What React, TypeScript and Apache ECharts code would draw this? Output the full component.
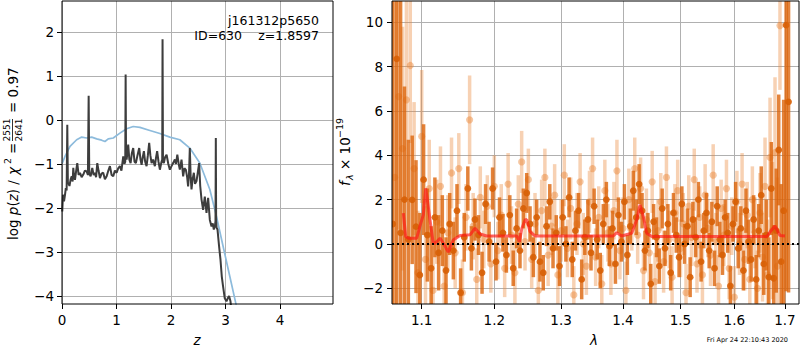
import React, { useEffect, useRef } from 'react';
import * as echarts from 'echarts';

const FONT = 'DejaVu Sans';

// Left panel: log p(z) curve (z, log p)
const pzCurve: [number, number][] = [
  [0.005, -2.08], [0.018, -1.7], [0.037, -1.85], [0.055, -1.7], [0.07, -1.55], [0.085, -1.6],
  [0.097, -0.11], [0.108, -1.45], [0.115, -1.43], [0.137, -1.5], [0.158, -1.35], [0.178, -1.28],
  [0.195, -1.4], [0.207, -1.09], [0.222, -1.3], [0.238, -1.36], [0.26, -1.15], [0.28, -0.98],
  [0.305, -1.25], [0.33, -1.2], [0.36, -1.3], [0.39, -1.24], [0.42, -1.15], [0.452, -1.17],
  [0.475, -1.25], [0.489, 0.55], [0.5, -1.22], [0.525, -1.28], [0.555, -1.09], [0.58, -1.25],
  [0.604, -1.2], [0.625, -1.3], [0.647, -0.98], [0.67, -1.15], [0.696, -1.32], [0.725, -1.22],
  [0.756, -1.2], [0.787, -1.35], [0.819, -1.28], [0.85, -1.15], [0.879, -1.05], [0.91, -1.25],
  [0.94, -1.28], [0.97, -1.15], [1.002, -1.2], [1.03, -1.1], [1.062, -1.05], [1.09, -1.15],
  [1.123, -0.83], [1.145, -1.0], [1.16, -0.95], [1.167, 1.03], [1.175, -0.85], [1.185, -0.9],
  [1.2, -0.75], [1.214, -0.56], [1.235, -0.9], [1.258, -0.98], [1.282, -0.75], [1.306, -0.64],
  [1.33, -0.95], [1.355, -0.98], [1.385, -0.8], [1.416, -0.64], [1.44, -0.9], [1.46, -1.02],
  [1.48, -0.85], [1.502, -0.71], [1.525, -0.95], [1.551, -1.05], [1.575, -0.8], [1.599, -0.52],
  [1.62, -0.8], [1.643, -0.98], [1.67, -0.9], [1.703, -1.05], [1.725, -0.85], [1.745, -0.71],
  [1.77, -0.95], [1.795, -1.13], [1.825, -0.95], [1.838, -0.9], [1.844, 1.83], [1.852, -0.95],
  [1.868, -0.98], [1.89, -0.85], [1.918, -0.79], [1.95, -1.0], [1.978, -1.13], [2.009, -1.05],
  [2.038, -0.98], [2.07, -0.9], [2.09, -1.0], [2.115, -0.79], [2.14, -1.0], [2.161, -1.13],
  [2.192, -0.9], [2.222, -1.28], [2.245, -1.1], [2.271, -1.13], [2.295, -1.3], [2.313, -1.51],
  [2.33, -1.2], [2.344, -0.64], [2.36, -1.3], [2.375, -1.58], [2.395, -1.35], [2.418, -1.2],
  [2.44, -1.45], [2.467, -1.39], [2.49, -1.2], [2.515, -0.98], [2.535, -1.5], [2.559, -1.81],
  [2.588, -2.04], [2.619, -1.74], [2.65, -2.11], [2.68, -1.77], [2.711, -2.27], [2.742, -2.42],
  [2.765, -2.35], [2.784, -2.49], [2.805, -2.4], [2.815, -2.3], [2.821, -0.41], [2.827, -2.3],
  [2.835, -2.45], [2.852, -2.49], [2.881, -2.87], [2.907, -3.18], [2.93, -3.55], [2.954, -3.78],
  [2.985, -4.05], [3.016, -4.12], [3.04, -4.05], [3.064, -4.0], [3.09, -4.12], [3.114, -4.4],
];

// Left panel: smooth prior / chi2 curve (z, value)
const chi2Curve: [number, number][] = [
  [0.005, -0.98], [0.055, -0.83], [0.147, -0.6], [0.269, -0.45], [0.361, -0.39], [0.452, -0.41],
  [0.544, -0.39], [0.636, -0.43], [0.727, -0.46], [0.788, -0.49], [0.848, -0.43], [0.94, -0.41],
  [1.062, -0.3], [1.185, -0.2], [1.306, -0.15], [1.429, -0.17], [1.612, -0.24], [1.795, -0.31],
  [1.978, -0.39], [2.161, -0.45], [2.344, -0.64], [2.527, -0.98], [2.711, -1.58], [2.833, -2.19],
  [2.954, -2.87], [3.077, -3.55], [3.187, -4.16], [3.26, -4.6],
];

// Right panel: spectrum points [lambda (um), flux, error]
const darkPoints: [number, number, number][] = [
  [1.0625, 0.9, 15], [1.0675, 8.35, 12], [1.0725, 0.5, 14], [1.0775, 2.0, 5.1], [1.0825, 0.2, 4.5],
  [1.0875, 1.99, 2.9], [1.0925, 0.78, 3.0], [1.0975, -1.4, 2.8], [1.1025, 2.9, 2.5], [1.1075, 0.4, 2.1],
  [1.1125, -1.1, 1.9], [1.1175, 1.2, 1.8], [1.1225, -0.4, 1.7], [1.1275, 0.6, 1.6], [1.1325, -1.2, 1.5],
  [1.1375, 0.9, 1.4], [1.1425, -0.3, 1.3], [1.1475, 1.5, 1.2], [1.1525, -2.2, 1.1], [1.1575, 0.3, 1.1],
  [1.1625, 2.5, 1.0], [1.1675, -0.2, 1.0], [1.1725, 1.1, 0.95], [1.1775, 0.4, 0.9], [1.1825, -1.3, 0.95],
  [1.1875, 1.8, 0.9], [1.1925, 0.1, 0.9], [1.1975, 2.5, 0.95], [1.2025, -0.8, 0.85], [1.2075, 1.2, 0.9],
  [1.2125, 0.5, 0.85], [1.2175, -0.5, 0.8], [1.2225, 1.3, 0.9], [1.2275, -1.1, 0.8], [1.2325, 0.7, 0.9],
  [1.2375, -0.3, 0.8], [1.2425, 1.6, 0.9], [1.2475, 2.3, 0.9], [1.2525, 0.9, 0.8], [1.2575, -0.6, 0.9],
  [1.2625, 1.2, 0.8], [1.2675, -0.8, 0.9], [1.2725, -1.3, 0.8], [1.2775, 0.8, 0.9], [1.2825, 1.9, 0.8],
  [1.2875, -0.2, 0.9], [1.2925, 0.5, 0.8], [1.2975, -1.0, 0.9], [1.3025, 1.2, 0.8], [1.3075, 0.0, 0.8],
  [1.3125, 2.1, 0.9], [1.3175, -0.7, 0.8], [1.3225, 0.6, 0.9], [1.3275, 1.5, 0.8], [1.3325, -1.6, 0.9],
  [1.3375, 0.3, 0.8], [1.3425, 1.1, 0.9], [1.3475, -0.4, 0.8], [1.3525, 1.7, 0.8], [1.3575, 0.2, 0.9],
  [1.3625, -1.2, 0.8], [1.3675, 0.9, 0.9], [1.3725, 2.0, 0.8], [1.3775, -0.1, 0.9], [1.3825, 0.7, 0.8],
  [1.3875, -0.9, 0.9], [1.3925, 1.3, 0.8], [1.3975, 0.1, 0.9], [1.4025, 1.9, 0.8], [1.4075, -0.5, 0.9],
  [1.4125, 0.8, 0.8], [1.4175, 2.4, 0.9], [1.4225, 1.2, 0.8], [1.4275, 2.7, 0.9], [1.4325, 1.5, 0.8],
  [1.4375, -0.3, 0.9], [1.4425, 0.6, 0.8], [1.4475, -1.8, 0.9], [1.4525, 1.0, 0.8], [1.4575, 0.3, 0.9],
  [1.4625, -1.0, 0.8], [1.4675, 1.6, 0.9], [1.4725, -0.2, 0.8], [1.4775, 0.9, 0.9], [1.4825, -1.3, 0.8],
  [1.4875, 1.4, 0.9], [1.4925, 0.4, 0.8], [1.4975, -0.6, 0.9], [1.5025, 1.8, 0.8], [1.5075, 0.0, 0.9],
  [1.5125, 0.8, 0.8], [1.5175, -1.5, 0.9], [1.5225, 1.1, 0.8], [1.5275, 0.3, 0.9], [1.5325, 2.0, 0.8],
  [1.5375, -0.8, 0.9], [1.5425, 0.6, 0.8], [1.5475, 1.4, 0.9], [1.5525, -0.3, 0.8], [1.5575, 1.0, 0.9],
  [1.5625, -1.1, 0.8], [1.5675, 1.7, 0.9], [1.5725, 0.2, 0.8], [1.5775, -0.5, 0.9], [1.5825, 1.2, 0.8],
  [1.5875, 0.5, 0.9], [1.5925, -1.9, 0.9], [1.5975, 0.9, 0.8], [1.6025, 1.9, 0.9], [1.6075, -0.2, 0.9],
  [1.6125, 0.7, 1.0], [1.6175, -1.2, 0.9], [1.6225, 1.5, 1.0], [1.6275, 0.1, 1.0], [1.6325, -0.7, 1.0],
  [1.6375, 1.1, 1.1], [1.6425, -1.6, 1.1], [1.6475, 0.6, 1.2], [1.6525, 2.2, 1.3], [1.6575, -0.9, 1.4],
  [1.6625, 0.4, 1.6], [1.6675, -1.5, 1.8], [1.6725, 2.5, 2.1], [1.6775, -1.55, 2.4], [1.6825, 0.6, 2.8],
  [1.6875, 4.24, 2.5], [1.6925, -0.8, 3.5], [1.6975, 1.5, 5.0], [1.7025, 9.87, 12], [1.7075, 6.41, 8.6],
];

const lightPoints: [number, number, number][] = [
  [1.065, 3.0, 14], [1.07, 6.65, 6], [1.075, 4.3, 5.5], [1.08, 6.5, 4.5], [1.085, 8.05, 3.5],
  [1.09, 3.4, 3.0], [1.095, -1.3, 2.8], [1.1, 4.85, 3.0], [1.105, -0.7, 2.4], [1.11, 2.5, 2.2],
  [1.115, -2.1, 2.0], [1.12, 1.0, 1.9], [1.125, 2.6, 1.8], [1.13, -1.9, 1.7], [1.135, 0.5, 1.7],
  [1.14, 3.2, 1.6], [1.145, -0.4, 1.6], [1.15, 3.4, 1.6], [1.155, -2.2, 1.5], [1.16, 1.2, 1.5],
  [1.165, 5.6, 2.0], [1.17, 0.8, 1.5], [1.175, -1.6, 1.4], [1.18, 2.1, 1.4], [1.185, 0.2, 1.3],
  [1.19, 1.7, 1.4], [1.195, -0.9, 1.3], [1.2, 2.6, 1.4], [1.205, -0.3, 1.3], [1.21, 1.3, 1.4],
  [1.215, -1.1, 1.3], [1.22, 2.7, 1.4], [1.225, 0.4, 1.3], [1.23, -1.3, 1.4], [1.235, 1.8, 1.3],
  [1.24, 3.7, 1.4], [1.245, 0.1, 1.3], [1.25, 2.9, 1.4], [1.255, -0.7, 1.3], [1.26, 0.9, 1.4],
  [1.265, -2.1, 1.3], [1.27, 1.5, 1.4], [1.275, 3.0, 1.3], [1.28, -0.5, 1.4], [1.285, 0.8, 1.3],
  [1.29, 2.2, 1.4], [1.295, -1.4, 1.3], [1.3, 0.6, 1.4], [1.305, 3.1, 1.4], [1.31, -0.2, 1.3],
  [1.315, 1.6, 1.4], [1.32, -2.3, 1.3], [1.325, 0.9, 1.4], [1.33, 2.8, 1.3], [1.335, 0.0, 1.4],
  [1.34, -1.0, 1.3], [1.345, 1.9, 1.4], [1.35, 3.4, 1.4], [1.355, -0.6, 1.3], [1.36, 1.2, 1.4],
  [1.365, -1.8, 1.3], [1.37, 2.4, 1.4], [1.375, 0.5, 1.3], [1.38, -0.9, 1.4], [1.385, 1.5, 1.3],
  [1.39, 3.3, 1.4], [1.395, -0.3, 1.3], [1.4, 0.7, 1.4], [1.405, -2.1, 1.3], [1.41, 2.0, 1.4],
  [1.415, 1.0, 1.3], [1.42, 3.4, 1.4], [1.425, 0.4, 1.3], [1.43, 2.5, 1.4], [1.435, -1.2, 1.3],
  [1.44, 1.1, 1.4], [1.445, -0.4, 1.3], [1.45, 2.8, 1.4], [1.455, -1.7, 1.3], [1.46, 0.6, 1.4],
  [1.465, 1.9, 1.3], [1.47, -0.8, 1.4], [1.475, 3.0, 1.4], [1.48, 0.2, 1.3], [1.485, -1.5, 1.4],
  [1.49, 1.4, 1.3], [1.495, 2.4, 1.4], [1.5, -0.2, 1.3], [1.505, 0.9, 1.4], [1.51, -2.2, 1.3],
  [1.515, 1.7, 1.4], [1.52, 0.3, 1.3], [1.525, 2.9, 1.4], [1.53, -0.9, 1.3], [1.535, 1.2, 1.4],
  [1.54, -1.4, 1.3], [1.545, 2.2, 1.4], [1.55, 0.7, 1.3], [1.555, -0.5, 1.4], [1.56, 3.1, 1.4],
  [1.565, 0.1, 1.3], [1.57, -1.9, 1.4], [1.575, 1.6, 1.3], [1.58, 0.4, 1.4], [1.585, 2.5, 1.3],
  [1.59, -1.1, 1.4], [1.595, 0.8, 1.3], [1.6, -2.4, 1.4], [1.605, 1.9, 1.4], [1.61, 0.0, 1.4],
  [1.615, 2.7, 1.4], [1.62, -0.7, 1.4], [1.625, 1.3, 1.5], [1.63, -1.6, 1.5], [1.635, 2.0, 1.5],
  [1.64, 0.5, 1.6], [1.645, -2.0, 1.7], [1.65, 1.4, 1.8], [1.655, -0.6, 2.0], [1.66, 2.6, 2.2],
  [1.665, -1.4, 2.5], [1.67, 3.9, 2.7], [1.675, 0.6, 3.1], [1.68, 4.12, 3.4], [1.685, -1.0, 4.0],
  [1.69, 9.85, 2.9],
];

// Right panel: model spectrum (lambda, flux)
const modelCurve: [number, number][] = [
  [1.076, 1.39], [1.0791, 0.33], [1.0825, 0.26], [1.0934, 0.26], [1.0987, 0.93], [1.1021, 1.31],
  [1.1053, 2.51], [1.1075, 1.99], [1.111, 1.08], [1.1154, 0.0], [1.1199, 0.1], [1.1244, 0.26],
  [1.1288, 0.03], [1.1356, -0.37], [1.1424, 0.18], [1.1517, 0.38], [1.1656, 0.41], [1.1726, 0.71],
  [1.1797, 0.45], [1.1893, 0.36], [1.2328, 0.36], [1.2367, 0.1], [1.2403, 0.71], [1.2451, 1.08],
  [1.2475, 1.1], [1.2525, 0.56], [1.26, 0.36], [1.3839, 0.36], [1.3896, 0.51], [1.3979, 0.36],
  [1.4148, 0.48], [1.4233, 1.08], [1.429, 1.76], [1.4347, 1.23], [1.4405, 0.48], [1.4493, 0.33],
  [1.6633, 0.33], [1.672, 0.6], [1.6799, 0.81], [1.69, 0.38], [1.7002, 0.36],
];

const leftXTicks = [0, 1, 2, 3, 4];
const leftYTicks = [-4, -3, -2, -1, 0, 1, 2];
const rightXTicks = [1.1, 1.2, 1.3, 1.4, 1.5, 1.6, 1.7];
const rightYTicks = [-2, 0, 2, 4, 6, 8, 10];

const minus = (v: number) => (v < 0 ? '\u2212' + Math.abs(v) : String(v));

const labelStyle = { color: '#000', fontSize: 13.5, fontFamily: FONT };
const tickStyle = { show: true, length: 5, lineStyle: { color: '#000', width: 1 } };
const gridLine = { show: true, lineStyle: { color: '#b0b0b0', width: 1 } };

function errRender(barColor: string, dotColor: string, r: number, w: number) {
  return (params: any, api: any) => {
    const x = api.value(0);
    const y = api.value(1);
    const e = api.value(2);
    const top = api.coord([x, y + e]);
    const bot = api.coord([x, y - e]);
    const c = api.coord([x, y]);
    return {
      type: 'group',
      children: [
        { type: 'rect', shape: { x: c[0] - w / 2, y: top[1], width: w, height: bot[1] - top[1] }, style: { fill: barColor } },
        { type: 'circle', shape: { cx: c[0], cy: c[1], r }, style: { fill: dotColor } },
      ],
    };
  };
}

function txt(text: string, x: number, y: number, size: number, align: string, extra: any = {}) {
  return {
    type: 'text', x, y, z: 100,
    style: {
      text, fill: '#000', fontSize: size, fontFamily: FONT,
      align, textAlign: align, verticalAlign: 'middle', textVerticalAlign: 'middle',
      ...extra,
    },
  };
}

export default function App() {
  const ref = useRef<HTMLDivElement>(null);
  useEffect(() => {
    const chart = echarts.init(ref.current!, null, { renderer: 'svg' });
    const lg = (v: number) => Math.log10(v);
    const richIt = { i: { fontStyle: 'italic', fontSize: 13.5, fontFamily: FONT, fill: '#000' } };
    const option: any = {
      animation: false,
      backgroundColor: '#fff',
      grid: [
        { left: 62, top: 1, width: 271, height: 303, show: false },
        { left: 392, top: 1, width: 407, height: 303, show: false },
      ],
      xAxis: [
        {
          gridIndex: 0, type: 'value', min: 0, max: 4.97,
          axisLine: { show: false, onZero: false },
          axisTick: { ...tickStyle, customValues: leftXTicks },
          axisLabel: { ...labelStyle, margin: 9, customValues: leftXTicks, formatter: (v: number) => minus(v) },
          splitLine: gridLine,
        },
        {
          gridIndex: 1, type: 'value', min: lg(1.0615), max: lg(1.729),
          axisLine: { show: false, onZero: false },
          axisTick: { ...tickStyle, customValues: rightXTicks.map(lg) },
          axisLabel: { ...labelStyle, margin: 9, customValues: rightXTicks.map(lg), formatter: (v: number) => Math.pow(10, v).toFixed(1) },
          splitLine: gridLine,
        },
      ],
      yAxis: [
        {
          gridIndex: 0, type: 'value', min: -4.18, max: 2.7,
          axisLine: { show: false, onZero: false },
          axisTick: { ...tickStyle, customValues: leftYTicks },
          axisLabel: { ...labelStyle, margin: 8, customValues: leftYTicks, formatter: (v: number) => minus(v) },
          splitLine: gridLine,
        },
        {
          gridIndex: 1, type: 'value', min: -2.71, max: 10.96,
          axisLine: { show: false, onZero: false },
          axisTick: { ...tickStyle, customValues: rightYTicks },
          axisLabel: { ...labelStyle, margin: 9, customValues: rightYTicks, formatter: (v: number) => minus(v) },
          splitLine: gridLine,
        },
      ],
      series: [
        {
          type: 'line', xAxisIndex: 0, yAxisIndex: 0, data: chi2Curve, showSymbol: false, symbol: 'none',
          lineStyle: { color: '#8dbbdc', width: 1.7 }, z: 2, clip: true,
        },
        {
          type: 'line', xAxisIndex: 0, yAxisIndex: 0, data: pzCurve, showSymbol: false, symbol: 'none',
          lineStyle: { color: '#3d3d3d', width: 2 }, z: 3, clip: true,
        },
        {
          type: 'custom', xAxisIndex: 1, yAxisIndex: 1, clip: true, z: 2,
          data: lightPoints.map((p) => [lg(p[0]), p[1], p[2]]),
          encode: { x: 0, y: 1 },
          renderItem: errRender('rgba(235,135,55,0.38)', 'rgba(232,130,50,0.45)', 3.6, 3.5),
        },
        {
          type: 'custom', xAxisIndex: 1, yAxisIndex: 1, clip: true, z: 3,
          data: darkPoints.map((p) => [lg(p[0]), p[1], p[2]]),
          encode: { x: 0, y: 1 },
          renderItem: errRender('rgba(220,100,10,0.8)', 'rgba(215,95,5,0.9)', 3.4, 3.5),
        },
        {
          type: 'line', xAxisIndex: 1, yAxisIndex: 1, data: modelCurve.map((p) => [lg(p[0]), p[1]]),
          showSymbol: false, symbol: 'none', z: 4, clip: true,
          lineStyle: { color: 'rgba(255,20,20,0.65)', width: 3 },
          markLine: {
            silent: true, symbol: ['none', 'none'], label: { show: false },
            lineStyle: { color: '#000', type: [2, 3], width: 2 },
            data: [{ yAxis: 0 }],
          },
        },
      ],
      graphic: [
        { type: 'rect', z: 100, shape: { x: 62, y: 1, width: 271, height: 303 }, style: { fill: 'none', stroke: '#000', lineWidth: 1 } },
        { type: 'rect', z: 100, shape: { x: 392, y: 1, width: 407, height: 303 }, style: { fill: 'none', stroke: '#000', lineWidth: 1 } },
        txt('j161312p5650', 319, 20, 12.5, 'right'),
        txt('ID=630', 242, 35, 12.5, 'right'),
        txt('z=1.8597', 319, 35, 12.5, 'right'),
        txt('z', 197, 340, 13.5, 'center', { fontStyle: 'italic' }),
        txt('\u03bb', 594, 340, 13.5, 'center', { fontStyle: 'italic' }),
        txt('Fri Apr 24 22:10:43 2020', 788, 340, 6.5, 'right'),
        {
          type: 'group', x: 12.5, y: 240, rotation: Math.PI / 2, z: 100,
          children: [
            txt('log {i|p}({i|z}) /', 0, 0, 13.5, 'left', { rich: richIt }),
            txt('\u03c7', 65, 0, 13.5, 'left', { fontStyle: 'italic' }),
            txt('2', 76, -5, 9.5, 'left'),
            txt('=', 86, 0, 13.5, 'left'),
            txt('2551', 110, -6, 9, 'center'),
            txt('2641', 110, 6, 9, 'center'),
            { type: 'line', z: 100, shape: { x1: 99, y1: 0, x2: 121, y2: 0 }, style: { stroke: '#000', lineWidth: 0.8 } },
            txt('= 0.97', 127, 0, 13.5, 'left'),
          ],
        },
        {
          type: 'group', x: 345, y: 186, rotation: Math.PI / 2, z: 100,
          children: [
            txt('f', 0, 0, 13.5, 'left', { fontStyle: 'italic' }),
            txt('\u03bb', 6, 4, 9.5, 'left', { fontStyle: 'italic' }),
            txt('\u00d7 10', 16, 0, 13.5, 'left'),
            txt('\u221219', 48, -6, 9.5, 'left'),
          ],
        },
      ],
    };
    chart.setOption(option);
    return () => chart.dispose();
  }, []);
  return <div ref={ref} style={{ position: 'fixed', left: 0, top: 0, width: 800, height: 350 }} />;
}
